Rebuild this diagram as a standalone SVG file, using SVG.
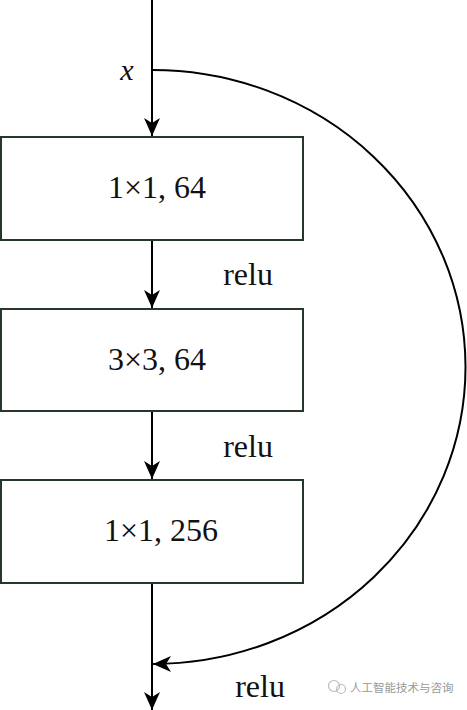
<svg xmlns="http://www.w3.org/2000/svg" width="467" height="710" viewBox="0 0 467 710">
<style>
.box{fill:#fff;stroke:#24392a;stroke-width:2}
.lbl{font-family:"Liberation Serif","Times New Roman",serif;font-size:32px;fill:#111;text-anchor:middle}
.ln{stroke:#000;stroke-width:2;fill:none}
.wm{font-family:"Noto Sans CJK SC",sans-serif;font-size:11.5px;fill:#999}
</style>
<defs>
<marker id="ah" viewBox="0 0 18 16" refX="18" refY="8" markerWidth="18" markerHeight="16" markerUnits="userSpaceOnUse" orient="auto">
<path d="M0,0 L18,8 L0,16 L5,8 Z" fill="#000"/>
</marker>
</defs>
<rect width="467" height="710" fill="#fff"/>
<g id="connectors">
<line class="ln" x1="152" y1="0" x2="152" y2="136" marker-end="url(#ah)"/>
<line class="ln" x1="152" y1="240" x2="152" y2="308" marker-end="url(#ah)"/>
<line class="ln" x1="152" y1="411" x2="152" y2="479" marker-end="url(#ah)"/>
<line class="ln" x1="152" y1="583" x2="152" y2="710" marker-end="url(#ah)"/>
<path class="ln" d="M152,70 A313,297 0 0 1 153,664" marker-end="url(#ah)"/>
</g>
<g id="input">
<text x="127" y="80" style="font-family:'Liberation Serif',serif;font-style:italic;font-size:30px;fill:#111" text-anchor="middle">x</text>
</g>
<g id="node1">
<rect class="box" x="1" y="137" width="302" height="103"/>
<text class="lbl" x="157" y="198">1×1, 64</text>
</g>
<g id="relu1"><text class="lbl" x="248" y="285">relu</text></g>
<g id="node2">
<rect class="box" x="1" y="309" width="302" height="102"/>
<text class="lbl" x="157" y="370">3×3, 64</text>
</g>
<g id="relu2"><text class="lbl" x="248" y="457">relu</text></g>
<g id="node3">
<rect class="box" x="1" y="480" width="302" height="103"/>
<text class="lbl" x="161" y="541">1×1, 256</text>
</g>
<g id="relu3"><text class="lbl" x="260" y="697">relu</text></g>
<g id="watermark">
<circle cx="334" cy="686" r="5.5" fill="none" stroke="#bbb" stroke-width="1.2"/>
<circle cx="341" cy="689" r="4.5" fill="none" stroke="#bbb" stroke-width="1.2"/>
<text class="wm" x="350" y="692">人工智能技术与咨询</text>
</g>
</svg>
